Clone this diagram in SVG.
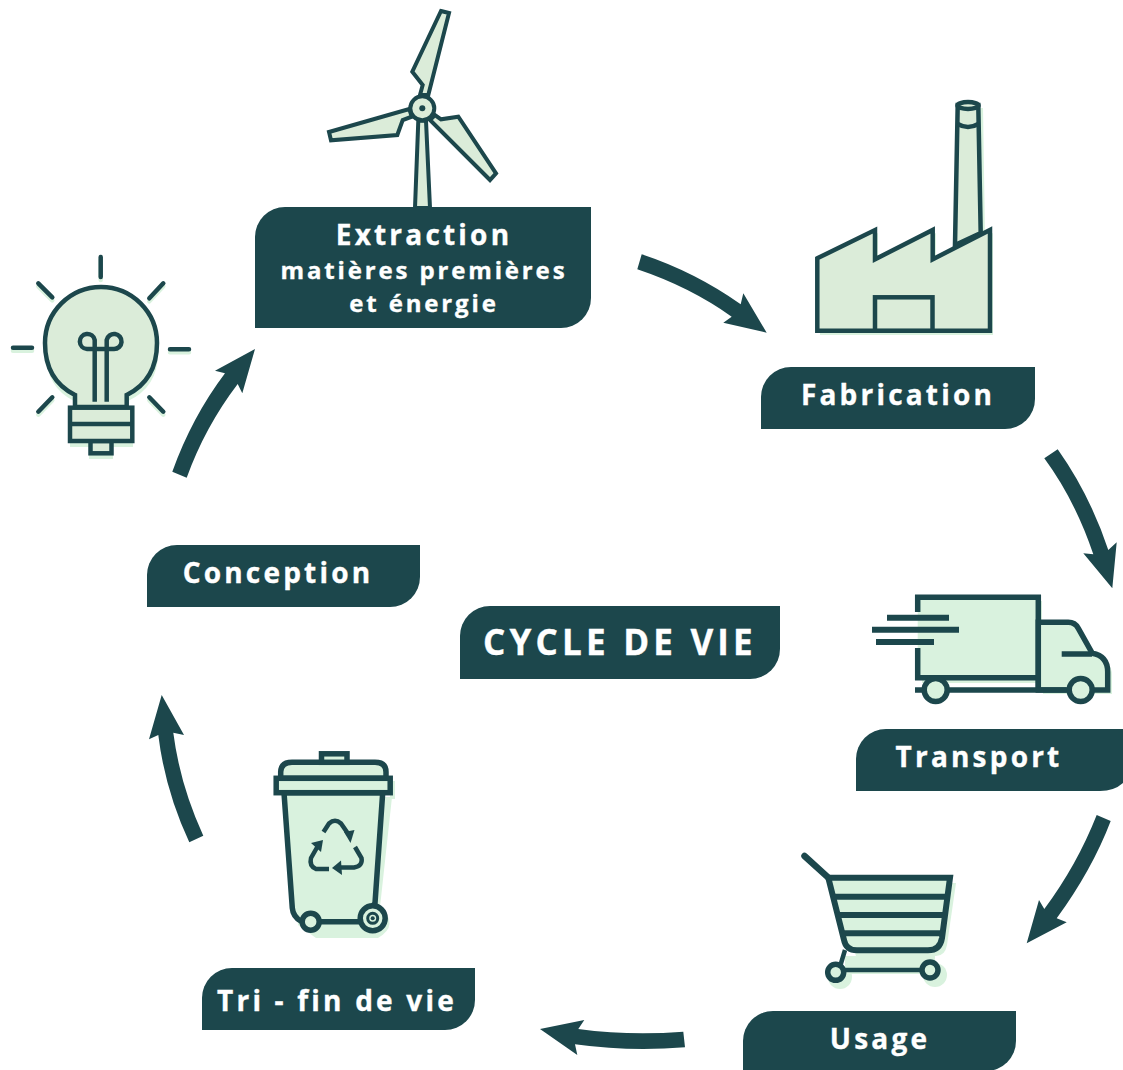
<svg xmlns="http://www.w3.org/2000/svg" width="1123" height="1070" viewBox="0 0 1123 1070">
<defs>
<style>
.lab{fill:#1c474c}
.t{fill:#fff;stroke:#fff;stroke-width:.35px;font-family:"Open Sans","Liberation Sans",sans-serif;font-weight:700;text-anchor:middle}
.l{font-size:28px;letter-spacing:3.200px}
.s{font-size:24px;letter-spacing:2.850px}
.c{font-size:35px;letter-spacing:4.200px}
.arrow{fill:#1c474c}
.ic{fill:#dbecd9;stroke:#1c474c;stroke-width:4.500}
.ic2{fill:#d9f2de;stroke:#1c474c;stroke-width:5.500}
.ln{fill:none;stroke:#1c474c;stroke-width:4.500}
.ln5{fill:none;stroke:#1c474c;stroke-width:5.500}
.rd{stroke-linecap:round}
.sh{fill:#d9f2de;stroke:none}
.dk{fill:#1c474c}
</style>
</defs>
<rect width="1123" height="1070" fill="#fff"/>

<g id="connectors">
<path class="arrow" d="M641.7,254.3Q695,272 740.7,304.3L743.3,293.3L766.7,332.7L723.3,322.7L731.7,316.7Q690,287 637.3,269.3Z"/>
<path class="arrow" d="M1057.7,449.3Q1090,495 1108.3,550L1116.7,542.3L1112.3,588.3L1083.3,553.3L1093.3,554.3Q1075,500 1044.3,458.3Z"/>
<path class="arrow" d="M1096.7,815Q1077,865 1044.3,909L1039,900L1026.7,943.3L1066.7,922.3L1056.7,918.3Q1092,870 1110.7,821Z"/>
<path class="arrow" d="M683.3,1031.7Q630,1036 578.3,1029L584.3,1020L540,1029L577.3,1055L575,1044.3Q630,1052 685,1047.3Z"/>
<path class="arrow" d="M189.3,842.3Q165,790 158.3,735L149,739.3L161.7,695L184,735L173.3,732.7Q180,785 203.3,835.7Z"/>
<path class="arrow" d="M172.3,471.7Q192,417 225,373.3L215,370.7L255,349L242.3,393.3L237.7,384Q205,427 186.7,477.7Z"/>
</g>

<g id="extraction">
<path class="ic" style="stroke-width:4" d="M418.3,120.7L415,208H430L426,120.7Z"/>
<path class="ic" style="stroke-width:4" d="M441,11L449,13L428.3,95H420L422.7,85L412.3,71.7Z"/>
<path class="ic" style="stroke-width:4" d="M329,132L409.3,109L411.7,116.7L402.7,120L397.3,135L331,140.3Z"/>
<path class="ic" style="stroke-width:4" d="M496,173.3L490,180L430,120L435,115L441,119.3L458.3,116.7Z"/>
<circle class="ic" style="stroke-width:4" cx="422.3" cy="108.3" r="12"/>
<circle class="dk" cx="422.3" cy="108.3" r="3"/>
<path class="lab" d="M285,207H591V298A30,30 0 0 1 561,328H255V237A30,30 0 0 1 285,207Z"/>
<text class="t l" x="424" y="245">Extraction</text>
<text class="t s" x="424" y="279">matières premières</text>
<text class="t s" x="424" y="312">et énergie</text>
</g>

<g id="fabrication">
<path class="sh" d="M820,261L878,233V262L936,233V262L993,233V335H820Z"/>
<path class="sh" d="M980,108H983L985,235H980Z"/>
<path class="ic" d="M957.700,105L955,245L980.700,233L978.300,105Z"/>
<path class="ln" d="M957.700,124Q968,130 978.300,124"/>
<ellipse class="ic" cx="968" cy="105.500" rx="10.500" ry="3.500"/>
<path class="ic" d="M817.300,258.300L875,230V259.300L932.700,230V259.300L990,230V330.700H817.300Z"/>
<rect class="ic" x="875" y="297.300" width="57.500" height="33.400"/>
<path class="lab" d="M761,397A30,30 0 0 1 791,367H1035V399A30,30 0 0 1 1005,429H761Z"/>
<text class="t l" x="898" y="405">Fabrication</text>
</g>

<g id="transport">
<rect class="sh" x="922" y="601" width="120" height="82"/>
<path class="sh" d="M1043,627H1072L1097,658Q1112,662 1112,675V694H1043Z"/>
<rect x="917.700" y="597.300" width="120.600" height="80.400" fill="#d9f2de"/>
<path class="ln5" d="M917.700,612V597.300H1038.300V690M917.700,648V677.700H1038.300"/>
<path fill="#d9f2de" stroke="#1c474c" stroke-width="5.500" d="M1038.300,622.300H1068.300Q1075,622.300 1078.300,628.300L1092.300,653.300Q1107.700,656 1107.700,672V690H1038.300Z"/>
<path class="ln5" d="M1061.700,654H1092M915,690H1066.700"/>
<circle class="ic2" cx="935.700" cy="690" r="11.500"/>
<circle class="ic2" cx="1080.700" cy="690" r="11.500"/>
<path class="ln" style="stroke-width:6" d="M887,617.700H949M872,629.700H959M876,642H934"/>
<path class="lab" d="M856,759A30,30 0 0 1 886,729H1123V783Q1114,791 1100,791H856Z"/>
<text class="t l" x="979" y="767">Transport</text>
</g>

<g id="usage">
<path class="sh" d="M834,883H956L947,945Q945,956 936,956H856Z"/>
<circle class="sh" cx="840" cy="977" r="12"/>
<circle class="sh" cx="935" cy="975" r="12"/>
<rect class="sh" x="845" y="956" width="90" height="18"/>
<path class="ic" style="stroke-width:6;fill:#d9f2de" d="M828.300,877.700H950L942,938Q940,950.300 928,950.300H857Q846,950.300 844,940Z"/>
<path class="ln" style="stroke-width:6" d="M832.500,896.700H947M836.500,915H945M841,933.300H942.500"/>
<path class="ln rd" style="stroke-width:6.500" d="M804.500,856L828.300,877.700"/>
<path class="ln" d="M845,950L840.500,965M843,970H922"/>
<circle class="ic" style="stroke-width:5.500;fill:#d9f2de" cx="835.700" cy="972.300" r="8"/>
<circle class="ic" style="stroke-width:5.500;fill:#d9f2de" cx="930" cy="970" r="8"/>
<path class="lab" d="M743,1041A30,30 0 0 1 773,1011H1016V1041A30,30 0 0 1 986,1071H743Z"/>
<text class="t l" x="880" y="1049">Usage</text>
</g>

<g id="tri">
<path class="sh" d="M288,797H392L380,907Q400,925 378,938H316L298,925Z"/>
<rect class="sh" x="390" y="781" width="5" height="18"/>
<path class="ic2" d="M284,792.700L292.300,908Q293,917 301.700,921.700H360L375,903.300L382.700,792.700Z"/>
<path class="ic2" d="M280.700,778.300V772Q281,762.300 292,762.300H375Q386,762.300 386,772V778.300Z"/>
<rect class="ic2" x="321.500" y="753.800" width="25.500" height="8.500"/>
<rect class="ic2" x="276.200" y="778.300" width="114" height="14.400"/>
<circle class="ic2" cx="310.700" cy="921.700" r="8.500"/>
<circle class="ic2" cx="372.700" cy="918.300" r="12.500"/>
<circle cx="372.700" cy="918.300" r="5" fill="none" stroke="#1c474c" stroke-width="3"/>
<circle class="dk" cx="372.700" cy="918.300" r="2"/>
<path class="ln" d="M323.500,832L329,823.500Q335,818 341,823.500L349,835"/>
<path class="dk" d="M344,832L354.500,830L350.500,843Z"/>
<path class="ln" d="M355,847L361.500,858Q363,866 354,867.500H337"/>
<path class="dk" d="M341,860.500L332,868L342,875Z"/>
<path class="ln" d="M329,869H316Q309,866 311,858L319,844"/>
<path class="dk" d="M311,843L323,840L321,852Z"/>
<path class="lab" d="M202,998A30,30 0 0 1 232,968H475V1000A30,30 0 0 1 445,1030H202Z"/>
<text class="t l" x="337" y="1011">Tri - fin de vie</text>
</g>

<g id="conception">
<path class="sh" d="M47,350A56,56 0 0 1 159,350Q159,384 129,398V411H134V444H114V456H90V444H71V411H75V398Q47,384 47,350Z" transform="translate(-1,3)"/>
<path class="ln rd" style="stroke:#d9f2de" transform="translate(0,3)" d="M100.700,257V277M170,349.300H189M13,347.700H32M38.300,283.300L52.300,297.300M163.300,283.300L149.300,298.300M52.300,397.300L38.300,411.700M149.300,397.300L163.300,411.700"/>
<path class="ic" d="M75,407V395Q45,380 45,343A56,56 0 0 1 157,343Q157,380 126.700,395V407Z"/>
<rect class="ic" x="90.500" y="441" width="21" height="12.300"/>
<rect class="ic" x="70" y="407.700" width="62.300" height="33.300"/>
<path class="ln" d="M70,424H132.300M94.700,401.700V340A7.500,7.500 0 1 0 87,349H114A7.500,7.500 0 1 0 106.700,340V401.700"/>
<path class="ln rd" d="M100.700,257V277M170,349.300H189M13,347.700H32M38.300,283.300L52.300,297.300M163.300,283.300L149.300,298.300M52.300,397.300L38.300,411.700M149.300,397.300L163.300,411.700"/>
<path class="lab" d="M147,575A30,30 0 0 1 177,545H420V577A30,30 0 0 1 390,607H147Z"/>
<text class="t l" x="278" y="583">Conception</text>
</g>

<g id="cycle">
<path class="lab" d="M460,636A30,30 0 0 1 490,606H780V649A30,30 0 0 1 750,679H460Z"/>
<text class="t c" x="620" y="655">CYCLE DE VIE</text>
</g>
</svg>
